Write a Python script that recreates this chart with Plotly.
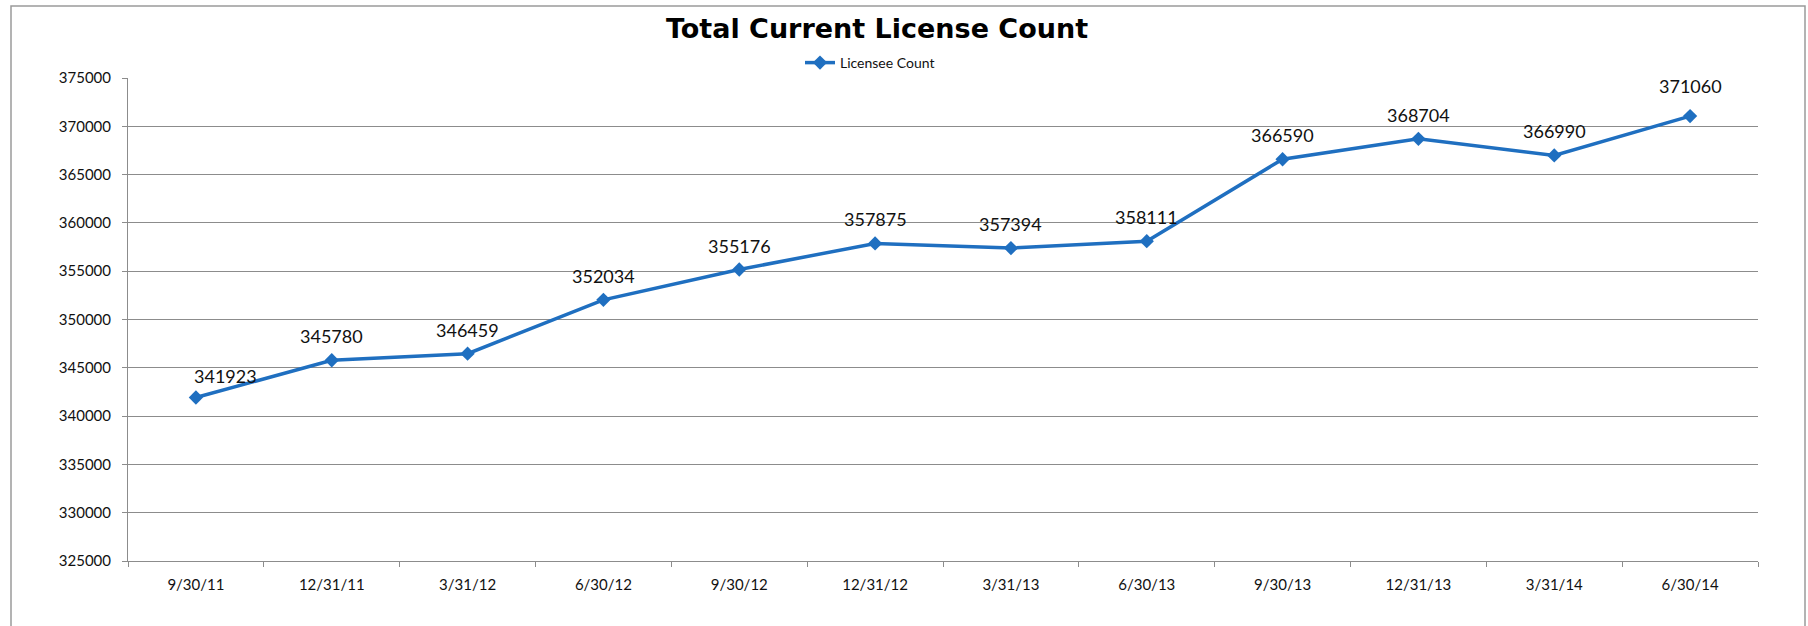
import plotly.graph_objects as go

categories = ["9/30/11", "12/31/11", "3/31/12", "6/30/12", "9/30/12", "12/31/12",
              "3/31/13", "6/30/13", "9/30/13", "12/31/13", "3/31/14", "6/30/14"]
licensee_count = [341923, 345780, 346459, 352034, 355176, 357875,
                  357394, 358111, 366590, 368704, 366990, 371060]
y_ticks = [325000, 330000, 335000, 340000, 345000, 350000,
           355000, 360000, 365000, 370000, 375000]

LINE_BLUE = "#1F6FC0"
GRID = "#8C8C8C"
FONT = "Lato, Noto Sans, sans-serif"

W, H = 1808, 626
L, R, T, B = 128, 50, 78, 65
PW, PH = W - L - R, H - T - B

fig = go.Figure()
fig.add_trace(go.Scatter(
    x=categories, y=licensee_count, mode="lines+markers",
    name="Licensee Count",
    line=dict(color=LINE_BLUE, width=3.5),
    marker=dict(symbol="diamond", size=11, color=LINE_BLUE),
))

# data labels
label_xshift = [30] + [0] * 10 + [0]
label_yshift = [22] + [24] * 10 + [30]
for c, v, xs, ys in zip(categories, licensee_count, label_xshift, label_yshift):
    fig.add_annotation(x=c, y=v, text=str(v), showarrow=False,
                       xshift=xs, yshift=ys, yanchor="middle",
                       font=dict(family=FONT, size=18, color="#111111"))

fig.update_layout(
    width=W, height=H,
    margin=dict(l=L, r=R, t=T, b=B),
    paper_bgcolor="white", plot_bgcolor="white",
    title=dict(text="Total Current License Count", x=877 / W, xanchor="center",
               y=1 - 29 / H, yanchor="middle",
               font=dict(family="DejaVu Sans, sans-serif", size=27, color="black", weight="bold")),
    showlegend=True,
    legend=dict(orientation="h", x=(870 - L) / PW, xanchor="center",
                y=(H - B - 63) / PH, yanchor="middle",
                font=dict(family=FONT, size=14, color="#111111"),
                bgcolor="rgba(0,0,0,0)", itemwidth=30),
    font=dict(family=FONT, size=15, color="#111111"),
)

fig.update_xaxes(type="category", range=[-0.5, len(categories) - 0.5],
                 showline=True, linecolor=GRID, linewidth=1,
                 ticks="outside", tickson="boundaries", ticklen=5, tickcolor=GRID,
                 ticklabelstandoff=10,
                 showgrid=False, tickfont=dict(family=FONT, size=15, color="#111111"))
fig.update_yaxes(range=[325000, 375000], tickvals=y_ticks,
                 ticktext=[str(t) for t in y_ticks],
                 showline=True, linecolor=GRID, linewidth=1,
                 ticks="outside", ticklen=5, tickcolor=GRID,
                 ticklabelstandoff=8,
                 showgrid=True, gridcolor=GRID, gridwidth=1, zeroline=False,
                 tickfont=dict(family=FONT, size=15, color="#111111"))

# outer chart border
fig.add_shape(type="rect", xref="paper", yref="paper",
              x0=(11 - L) / PW, x1=(1805 - L) / PW,
              y0=(H - B - 660) / PH, y1=(H - B - 6) / PH,
              line=dict(color="#9A9A9A", width=1.5), fillcolor="rgba(0,0,0,0)",
              layer="below")

fig.write_html("out.html", config={"displayModeBar": False},
               post_script="document.body.style.margin='0';document.body.style.overflow='hidden';")
